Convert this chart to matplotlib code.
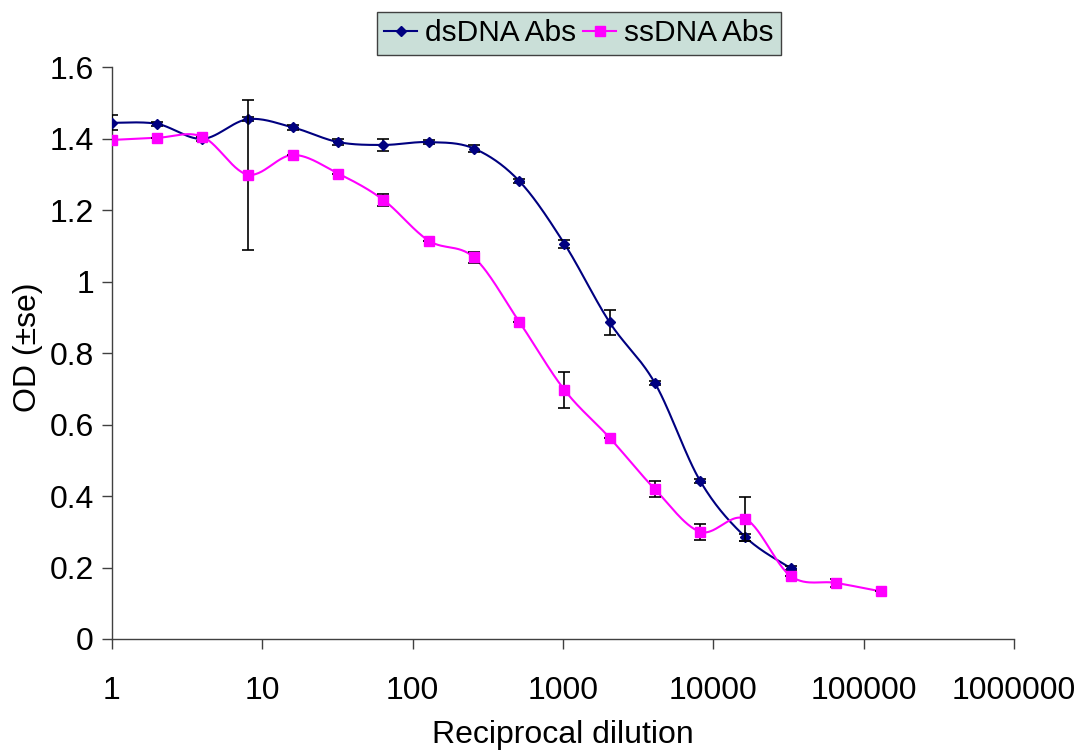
import numpy as np
import matplotlib
matplotlib.use('Agg')
import matplotlib.pyplot as plt
from matplotlib.lines import Line2D

# reciprocal dilution (2-fold series)
ds_dilution = [1, 2, 4, 8, 16, 32, 64, 128, 256, 512, 1024, 2048, 4096, 8192, 16384, 32768]
ds_od = [1.445, 1.442, 1.40, 1.455, 1.432, 1.391, 1.383, 1.391, 1.373, 1.282, 1.106,
         0.886, 0.716, 0.442, 0.285, 0.198]
ds_se = [0.021, 0.006, 0.005, 0.006, 0.006, 0.008, 0.018, 0.006, 0.010, 0.006, 0.012,
         0.034, 0.006, 0.006, 0.010, 0.006]

ss_dilution = [1, 2, 4, 8, 16, 32, 64, 128, 256, 512, 1024, 2048, 4096, 8192, 16384,
               32768, 65536, 131072]
ss_od = [1.397, 1.403, 1.406, 1.300, 1.355, 1.303, 1.229, 1.115, 1.068, 0.888, 0.697,
         0.563, 0.419, 0.300, 0.336, 0.176, 0.157, 0.133]
ss_se = [0.0, 0.0, 0.0, 0.21, 0.0, 0.0, 0.018, 0.0, 0.016, 0.0, 0.05,
         0.0, 0.022, 0.022, 0.062, 0.0, 0.012, 0.0]

x_ticks = [1, 10, 100, 1000, 10000, 100000, 1000000]
y_ticks = [0, 0.2, 0.4, 0.6, 0.8, 1.0, 1.2, 1.4, 1.6]
y_tick_labels = ['0', '0.2', '0.4', '0.6', '0.8', '1', '1.2', '1.4', '1.6']


def smooth(xs, ys, n=30):
    # Excel style smoothed line: Catmull-Rom through points in (log x, y)
    lx = np.log10(np.asarray(xs, float))
    y = np.asarray(ys, float)
    px = np.concatenate([[lx[0]], lx, [lx[-1]]])
    py = np.concatenate([[y[0]], y, [y[-1]]])
    out_x, out_y = [], []
    t = np.linspace(0, 1, n)
    for i in range(1, len(px) - 2):
        p0, p1, p2, p3 = i - 1, i, i + 1, i + 2
        b1x = px[p1] + (px[p2] - px[p0]) / 6
        b1y = py[p1] + (py[p2] - py[p0]) / 6
        b2x = px[p2] - (px[p3] - px[p1]) / 6
        b2y = py[p2] - (py[p3] - py[p1]) / 6
        bx = (1 - t)**3 * px[p1] + 3 * (1 - t)**2 * t * b1x + 3 * (1 - t) * t**2 * b2x + t**3 * px[p2]
        by = (1 - t)**3 * py[p1] + 3 * (1 - t)**2 * t * b1y + 3 * (1 - t) * t**2 * b2y + t**3 * py[p2]
        out_x.extend(bx)
        out_y.extend(by)
    return 10 ** np.array(out_x), np.array(out_y)


plt.rcParams['font.family'] = ['Liberation Sans', 'DejaVu Sans']
plt.rcParams['font.size'] = 23

fig = plt.figure(figsize=(10.88, 7.56), dpi=100)
ax = fig.add_axes([0.1029, 0.1548, 0.8290, 0.7560])

ds_color = '#000080'
ss_color = '#FF00FF'

sx, sy = smooth(ds_dilution, ds_od)
ax.plot(sx, sy, color=ds_color, lw=1.5, zorder=2)
ax.errorbar(ds_dilution, ds_od, yerr=ds_se, fmt='none', ecolor='black', elinewidth=1.2,
            capsize=4.5, capthick=1.2, zorder=3)
ax.plot(ds_dilution, ds_od, linestyle='none', marker='D', markersize=5.5,
        color=ds_color, mec=ds_color, zorder=4)

sx, sy = smooth(ss_dilution, ss_od)
ax.plot(sx, sy, color=ss_color, lw=1.5, zorder=5)
ax.errorbar(ss_dilution, ss_od, yerr=ss_se, fmt='none', ecolor='black', elinewidth=1.2,
            capsize=4.5, capthick=1.2, zorder=6)
ax.plot(ss_dilution, ss_od, linestyle='none', marker='s', markersize=7,
        color=ss_color, mec=ss_color, zorder=7)

ax.set_xscale('log')
ax.set_xlim(1, 1000000)
ax.set_ylim(0, 1.6)
ax.set_xticks(x_ticks)
ax.set_xticklabels([str(v) for v in x_ticks])
ax.xaxis.set_minor_locator(matplotlib.ticker.NullLocator())
ax.set_yticks(y_ticks)
ax.set_yticklabels(y_tick_labels)

for side in ['top', 'right']:
    ax.spines[side].set_visible(False)
for side in ['left', 'bottom']:
    ax.spines[side].set_color('#404040')
    ax.spines[side].set_linewidth(1.0)
ax.tick_params(axis='x', direction='out', length=7, width=1, color='#404040', pad=20)
ax.tick_params(axis='y', direction='out', length=7, width=1, color='#404040', pad=6)

ax.set_xlabel('Reciprocal dilution', labelpad=10)
ax.set_ylabel('OD (\u00b1se)')
ax.yaxis.set_label_coords(-0.077, 0.51)

handles = [
    Line2D([], [], color=ds_color, lw=1.5, marker='D', markersize=5.5),
    Line2D([], [], color=ss_color, lw=1.5, marker='s', markersize=7),
]
leg = fig.legend(handles, ['dsDNA Abs', 'ssDNA Abs'], loc='center', ncol=2,
                 bbox_to_anchor=(0.532, 0.956), frameon=True, fancybox=False,
                 handlelength=1.1, handletextpad=0.25, columnspacing=0.25,
                 borderpad=0.25, borderaxespad=0, fontsize=21.5)
leg.get_frame().set_facecolor('#CADFD8')
leg.get_frame().set_edgecolor('#404040')
leg.get_frame().set_linewidth(1.0)
leg.get_frame().set_alpha(1)

fig.savefig('out.png', dpi=100)
